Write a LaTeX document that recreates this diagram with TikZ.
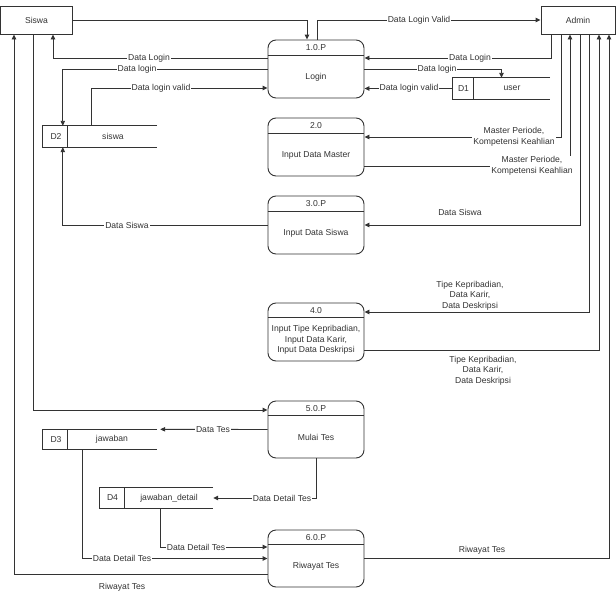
\documentclass[tikz,border=0pt]{standalone}
\usepackage{fontspec}
\setmainfont{Liberation Sans}
\usetikzlibrary{arrows.meta}
\definecolor{ink}{RGB}{51,51,51}
\newcommand{\dfdfont}{\fontsize{8.6}{10.5}\selectfont}
\tikzset{
  ent/.style={draw=ink, line width=0.9pt, minimum width=72pt, minimum height=28pt, inner sep=0pt, font=\dfdfont, text=ink},
  proc/.style={draw=ink, line width=0.9pt, rounded corners=8pt, minimum width=96pt, minimum height=58pt, inner sep=0pt},
  storebox/.style={minimum height=21pt, inner sep=0pt},
  txt/.style={font=\dfdfont, text=ink, inner sep=1pt, align=center},
  lbl/.style={font=\dfdfont, text=ink, inner sep=1pt, fill=white, align=center},
  lblfree/.style={font=\dfdfont, text=ink, inner sep=1pt, align=center},
  flow/.style={draw=ink, line width=0.9pt, -{Triangle[length=5pt,width=4.5pt]}},
  plain/.style={draw=ink, line width=0.9pt},
}
\begin{document}
\begin{tikzpicture}[x=1pt,y=-1pt]
\useasboundingbox (0,0) rectangle (616,597);

% external entities
\node[ent, minimum width=72pt] (siswa) at (36.5,20) {Siswa};
\node[ent, minimum width=74pt] (admin) at (578,20) {Admin};

% processes
\node[proc] (p1) at (316,69) {};
\draw[plain] ([yshift=-16pt]p1.north west) -- ([yshift=-16pt]p1.north east);
\node[txt] (p1h) at (316,48) {1.0.P};
\node[txt] (p1b) at (316,77) {Login};

\node[proc] (p2) at (316,147) {};
\draw[plain] ([yshift=-16pt]p2.north west) -- ([yshift=-16pt]p2.north east);
\node[txt] (p2h) at (316,126) {2.0};
\node[txt] (p2b) at (316,155) {Input Data Master};

\node[proc] (p3) at (316,225) {};
\draw[plain] ([yshift=-16pt]p3.north west) -- ([yshift=-16pt]p3.north east);
\node[txt] (p3h) at (316,204) {3.0.P};
\node[txt] (p3b) at (316,233) {Input Data Siswa};

\node[proc] (p4) at (316,332) {};
\draw[plain] ([yshift=-15pt]p4.north west) -- ([yshift=-15pt]p4.north east);
\node[txt] (p4h) at (316,310.5) {4.0};
\node[txt] (p4b) at (316,340) {Input Tipe Kepribadian,\\Input Data Karir,\\Input Data Deskripsi};

\node[proc, minimum height=57pt] (p5) at (316,429.5) {};
\draw[plain] ([yshift=-15pt]p5.north west) -- ([yshift=-15pt]p5.north east);
\node[txt] (p5h) at (316,408.5) {5.0.P};
\node[txt] (p5b) at (316,437) {Mulai Tes};

\node[proc, minimum height=57pt] (p6) at (316,558.5) {};
\draw[plain] ([yshift=-15pt]p6.north west) -- ([yshift=-15pt]p6.north east);
\node[txt] (p6h) at (316,537.5) {6.0.P};
\node[txt] (p6b) at (316,566) {Riwayat Tes};

% data stores
\node[storebox, minimum width=97pt] (d1) at (501.5,88.5) {};
\draw[plain] (d1.north east) -- (d1.north west) -- (d1.south west) -- (d1.south east);
\draw[plain] ([xshift=21pt]d1.north west) -- ([xshift=21pt]d1.south west);
\node[txt] (d1a) at (463.5,88.5) {D1};
\node[txt] (d1b) at (512,88.5) {user};

\node[storebox, minimum width=114pt] (d2) at (100,136.5) {};
\draw[plain] (d2.north east) -- (d2.north west) -- (d2.south west) -- (d2.south east);
\draw[plain] ([xshift=25pt]d2.north west) -- ([xshift=25pt]d2.south west);
\node[txt] (d2a) at (56,136.5) {D2};
\node[txt] (d2b) at (113,136.5) {siswa};

\node[storebox, minimum width=114pt, minimum height=20pt] (d3) at (100,439.5) {};
\draw[plain] (d3.north east) -- (d3.north west) -- (d3.south west) -- (d3.south east);
\draw[plain] ([xshift=25pt]d3.north west) -- ([xshift=25pt]d3.south west);
\node[txt] (d3a) at (56,439.5) {D3};
\node[txt] (d3b) at (112,439.5) {jawaban};

\node[storebox, minimum width=113pt, minimum height=20pt] (d4) at (156.5,498) {};
\draw[plain] (d4.north east) -- (d4.north west) -- (d4.south west) -- (d4.south east);
\draw[plain] ([xshift=25pt]d4.north west) -- ([xshift=25pt]d4.south west);
\node[txt] (d4a) at (112.5,498) {D4};
\node[txt] (d4b) at (169,498) {jawaban\_detail};

% flows
\draw[flow] (siswa.east) -| ([xshift=-9pt]p1.north);
\draw[flow] ([yshift=11pt]p1.west) -| ([xshift=16.5pt]siswa.south);
\draw[flow] (p1.west) -| ([xshift=20pt]d2.north west);
\draw[flow] ([xshift=49pt]d2.north west) |- ([yshift=-19pt]p1.west);
\draw[flow] ([xshift=1pt]p1.north) |- (admin.west);
\draw[flow] ([xshift=-27pt]admin.south) |- ([yshift=11pt]p1.east);
\draw[flow] (p1.east) -| (d1.north);
\draw[flow] (d1.west) -- (p1.east |- d1.west);
\draw[flow] ([xshift=-17pt]admin.south) |- ([yshift=10pt]p2.east);
\draw[flow] ([yshift=-19pt]p2.east) -| ([xshift=-8pt]admin.south);
\draw[flow] ([xshift=2pt]admin.south) |- (p3.east);
\draw[flow] (p3.west) -| ([xshift=20pt]d2.south west);
\draw[flow] ([xshift=11pt]admin.south) |- ([yshift=20pt]p4.east);
\draw[flow] ([yshift=-18pt]p4.east) -| ([xshift=21pt]admin.south);
\draw[flow] ([xshift=-3.5pt]siswa.south) |- ([yshift=19.5pt]p5.west);
\draw[flow] (p5.west) -- ([xshift=3pt]d3.north east);
\draw[flow] (p5.south) |- (d4.east);
\draw[flow] ([xshift=3.5pt]d4.south) |- ([yshift=11.5pt]p6.west);
\draw[flow] ([xshift=40pt]d3.south west) |- (p6.west);
\draw[flow] (p6.east) -| ([xshift=31pt]admin.south);
\draw[flow] ([yshift=-15.5pt]p6.west) -| ([xshift=-22.5pt]siswa.south);

% labels
\node[lbl] (l1) at (149,58) {Data Login};
\node[lbl] (l2) at (137,69) {Data login};
\node[lbl] (l3) at (161,88) {Data login valid};
\node[lbl] (l4) at (419,20) {Data Login Valid};
\node[lbl] (l5) at (470,58) {Data Login};
\node[lbl] (l6) at (437,69) {Data login};
\node[lbl] (l7) at (409,88) {Data login valid};
\node[lbl] (l8) at (514,137) {Master Periode,\\Kompetensi Keahlian};
\node[lbl] (l9) at (532,166) {Master Periode,\\Kompetensi Keahlian};
\node[lblfree] (l10) at (460,212) {Data Siswa};
\node[lbl] (l11) at (127,225) {Data Siswa};
\node[lblfree] (l12) at (470,295.5) {Tipe Kepribadian,\\Data Karir,\\Data Deskripsi};
\node[lblfree] (l13) at (483,370.5) {Tipe Kepribadian,\\Data Karir,\\Data Deskripsi};
\node[lbl] (l14) at (213,430) {Data Tes};
\node[lbl] (l15) at (282,498) {Data Detail Tes};
\node[lbl] (l16) at (196,547) {Data Detail Tes};
\node[lbl] (l17) at (122,558.5) {Data Detail Tes};
\node[lblfree] (l18) at (482,550) {Riwayat Tes};
\node[lblfree] (l19) at (122,587) {Riwayat Tes};
\end{tikzpicture}
\end{document}
